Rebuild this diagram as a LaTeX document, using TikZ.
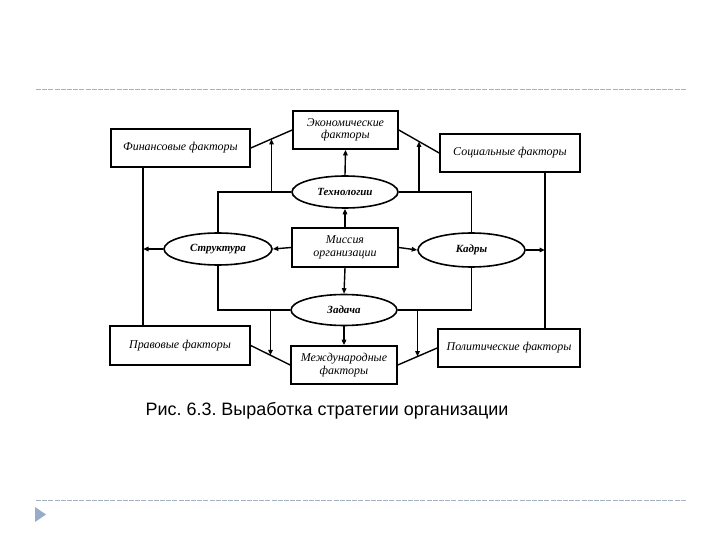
\documentclass[tikz,border=0pt]{standalone}
\usepackage{fontspec}
\setmainfont{Liberation Serif}
\newfontfamily\capfont{Liberation Sans}
\usetikzlibrary{shapes.geometric,arrows.meta,calc}
\definecolor{sepgray}{RGB}{165,178,196}
\definecolor{tri}{RGB}{150,172,200}
\begin{document}
\frenchspacing
\begin{tikzpicture}[x=1bp,y=-1bp,
  box/.style={draw,line width=1.6bp,rectangle,inner sep=0pt,align=center,font=\fontsize{12}{12.5}\selectfont\itshape},
  oval/.style={draw,line width=1.6bp,ellipse,inner sep=0pt,font=\fontsize{11}{12}\selectfont\bfseries\itshape},
  ln/.style={line width=1.4bp},
  arr/.style={line width=1.4bp,-{Triangle[length=5.5bp,width=4.5bp]}},
  sep/.style={draw=sepgray,line width=1bp,dash pattern=on 5bp off 1.2bp}]
\useasboundingbox (0,0) rectangle (720,540);
\path[sep] (36,90) coordinate (s1a) -- (686,90) coordinate (s1b);
\path[sep] (36,500) coordinate (s2a) -- (686,500) coordinate (s2b);
\fill[tri] (35,507) coordinate (t1) -- (46,514.5) coordinate (t2) -- (35,522) coordinate (t3) -- cycle;

\node[box,minimum width=139bp,minimum height=38bp] (fin) at (180.5,148) {Финансовые факторы};
\node[box,minimum width=105bp,minimum height=38bp] (econ) at (345.5,130) {Экономические\\факторы};
\node[box,minimum width=140bp,minimum height=38bp] (soc) at (510,153) {Социальные факторы};
\node[oval,minimum width=106bp,minimum height=32bp] (tech) at (345,192) {Технологии};
\node[box,minimum width=106bp,minimum height=39bp] (miss) at (345,247.5) {Миссия\\организации};
\node[oval,minimum width=106bp,minimum height=31bp] (zad) at (344,310) {Задача};
\node[oval,minimum width=108bp,minimum height=32bp] (str) at (218,249) {Структура};
\node[oval,minimum width=107bp,minimum height=34bp] (kad) at (471.5,250) {Кадры};
\node[box,minimum width=140bp,minimum height=39bp] (prav) at (180,345.5) {Правовые факторы};
\node[box,minimum width=106bp,minimum height=38bp] (mezh) at (344,365) {Международные\\факторы};
\node[box,minimum width=142bp,minimum height=38bp] (pol) at (509,348) {Политические факторы};

\node[font=\capfont\fontsize{18}{20}\selectfont,anchor=center] (cap) at (327,411) {Рис. 6.3. Выработка стратегии организации};

% diagonal links between factor boxes
\draw[ln] (fin.east) -- (econ.west);
\draw[ln] (econ.east) -- (soc.west);
\draw[ln] (prav.east) -- (mezh.west);
\draw[ln] (mezh.east) -- (pol.west);
\coordinate (dl) at ($(fin.east)!0.5!(econ.west)$);
\coordinate (dr) at ($(econ.east)!0.5!(soc.west)$);
\coordinate (bl) at ($(prav.east)!0.5!(mezh.west)$);
\coordinate (br) at ($(mezh.east)!0.5!(pol.west)$);

% vertical side lines
\coordinate (lx) at (143,0);
\coordinate (rx) at (545,0);
\draw[ln] (fin.south -| lx) -- (prav.north -| lx);
\draw[ln] (soc.south -| rx) -- (pol.north -| rx);

% frame around mission
\draw[ln] (str.north) |- (tech.west);
\draw[ln] (tech.east) -| (kad.north);
\draw[ln] (str.south) |- (zad.west);
\draw[ln] (kad.south) |- (zad.east);

\draw[arr] (dl |- tech.west) -- (dl);
\draw[arr] (dr |- tech.east) -- (dr);
\draw[arr] (bl |- zad.west) -- (bl);
\draw[arr] (br |- zad.east) -- (br);

\draw[arr] (tech.north) -- (econ.south);
\draw[arr] (miss.north) -- (tech.south);
\draw[arr] (miss.south) -- (zad.north);
\draw[arr] (zad.south) -- (mezh.north);
\draw[arr] (miss.west) -- (str.east);
\draw[arr] (miss.east) -- (kad.west);
\draw[arr] (str.west) -- (str.west -| lx);
\draw[arr] (kad.east) -- (kad.east -| rx);
\end{tikzpicture}
\end{document}
